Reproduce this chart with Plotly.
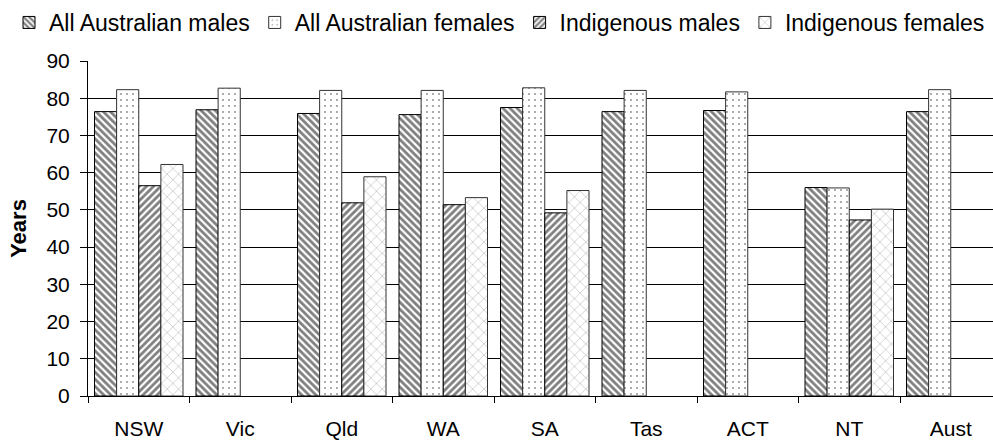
import plotly.graph_objects as go

# Life expectancy at birth (years) by state / territory
regions = ["NSW", "Vic", "Qld", "WA", "SA", "Tas", "ACT", "NT", "Aust"]
all_males = [76.4, 76.9, 75.9, 75.6, 77.5, 76.4, 76.7, 56.0, 76.4]
all_females = [82.3, 82.7, 82.1, 82.1, 82.8, 82.1, 81.7, 55.9, 82.3]
indig_males = [56.5, None, 51.9, 51.4, 49.2, None, None, 47.3, None]
indig_females = [62.2, None, 58.9, 53.3, 55.2, None, None, 50.2, None]

series_names = ["All Australian males", "All Australian females",
                "Indigenous males", "Indigenous females"]

FONT = "Liberation Sans, Arial, sans-serif"

styles = [
    dict(shape="\\", size=5, solidity=0.55, fgcolor="#000000", line="#000000"),
    dict(shape=".", size=6, solidity=0.08, fgcolor="#1a1a1a", line="#333333"),
    dict(shape="/", size=5, solidity=0.55, fgcolor="#000000", line="#000000"),
    dict(shape="x", size=8, solidity=0.12, fgcolor="#555555", line="#333333"),
]

fig = go.Figure()
for name, vals, st in zip(series_names,
                          [all_males, all_females, indig_males, indig_females],
                          styles):
    fig.add_trace(go.Bar(
        x=regions, y=vals, name=name,
        marker=dict(
            color="white",
            line=dict(color=st["line"], width=1),
            pattern=dict(shape=st["shape"], size=st["size"],
                         solidity=st["solidity"], fgcolor=st["fgcolor"],
                         bgcolor="white", fillmode="overlay"),
        ),
    ))

W, H = 1110, 442
ML, MR, MT, MB = 88, 10, 61, 46
plot_w = W - ML - MR
plot_h = H - MT - MB
cat_px = 101.5

fig.update_layout(
    width=W, height=H,
    margin=dict(l=ML, r=MR, t=MT, b=MB, pad=0, autoexpand=False),
    paper_bgcolor="white", plot_bgcolor="white",
    font=dict(family=FONT, size=21, color="#000000"),
    barmode="group", bargap=0.128, bargroupgap=0,
    showlegend=True,
    legend=dict(
        orientation="h", x=(9 - ML) / plot_w, xanchor="left",
        y=1 + (MT - 1) / plot_h, yanchor="top",
        font=dict(family=FONT, size=23, color="#000000"),
        itemwidth=30, tracegroupgap=0, bgcolor="rgba(0,0,0,0)",
    ),
    xaxis=dict(
        type="category", automargin=False,
        range=[-0.5, -0.5 + plot_w / cat_px],
        showline=True, linecolor="#000000", linewidth=1,
        ticks="outside", ticklen=6, tickcolor="#000000", tickwidth=1,
        tickson="boundaries", ticklabelstandoff=14,
        showgrid=False, zeroline=False,
        tickfont=dict(family=FONT, size=21, color="#000000"),
    ),
    yaxis=dict(
        range=[0, 90], dtick=10, tick0=0, automargin=False,
        showline=True, linecolor="#000000", linewidth=1,
        ticks="outside", ticklen=7, tickcolor="#000000", tickwidth=1,
        ticklabelstandoff=6,
        showgrid=True, gridcolor="#000000", gridwidth=1,
        zeroline=False,
        tickfont=dict(family=FONT, size=21, color="#000000"),
        title=dict(text="<b>Years</b>", standoff=13,
                   font=dict(family=FONT, size=22, color="#000000")),
    ),
)

fig.write_html(
    "out.html",
    post_script="document.documentElement.style.overflow='hidden';"
                "document.body.style.overflow='hidden';",
)
